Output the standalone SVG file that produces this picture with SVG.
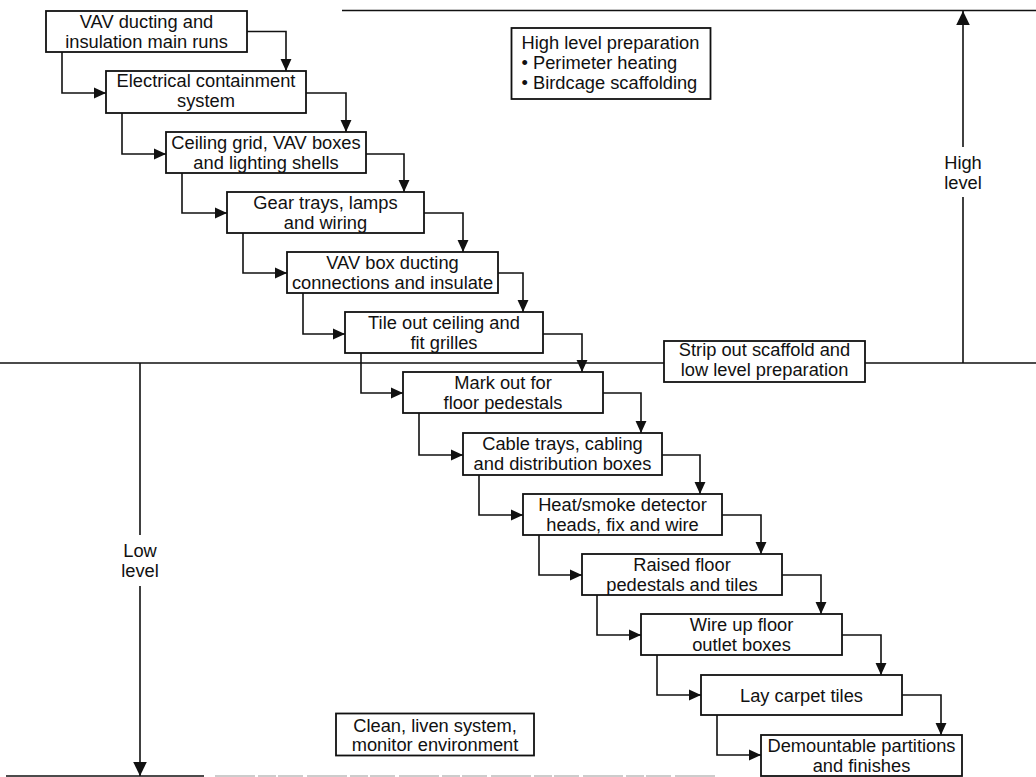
<svg xmlns="http://www.w3.org/2000/svg" width="1036" height="777" viewBox="0 0 1036 777">
  <style>
    text { font-family: "Liberation Sans", Arial, Helvetica, sans-serif; font-size: 18.3px; fill: #111; }
    .c { text-anchor: middle; }
    .box { fill: #fff; stroke: #111; stroke-width: 1.8; }
    .link { fill: none; stroke: #111; stroke-width: 1.6; marker-end: url(#arr); }
    .rule { fill: none; stroke: #111; stroke-width: 1.5; }
    .level { fill: none; stroke: #111; stroke-width: 1.6; }
  </style>
  <defs>
    <marker id="arr" markerUnits="userSpaceOnUse" markerWidth="12" markerHeight="12" viewBox="0 0 11 10" refX="11" refY="5" orient="auto">
      <path d="M0,0 L11,5 L0,10 Z" fill="#111"/>
    </marker>
    <marker id="bigarr" markerUnits="userSpaceOnUse" markerWidth="14" markerHeight="14" viewBox="0 0 13 12.6" refX="13" refY="6.3" orient="auto">
      <path d="M0,0 L13,6.3 L0,12.6 Z" fill="#111"/>
    </marker>
  </defs>
  <rect width="1036" height="777" fill="#fff"/>

  <!-- level rules -->
  <g id="rules">
    <path class="rule" d="M342,10.5 H1036"/>
    <path class="rule" d="M0,363 H664 M865,363 H1036"/>
    <path class="rule" d="M6,776 H204"/>
    <path d="M215,776 H718" fill="none" stroke="#9a9a9a" stroke-width="1.1" stroke-dasharray="40 3 18 2 25 4"/>
  </g>

  <!-- connectors -->
  <g id="connectors">
    <!-- right-hand links: box side to top of next box -->
    <path class="link" d="M247,31.5 H286 V71"/>
    <path class="link" d="M306,93 H346 V132"/>
    <path class="link" d="M366,154 H404 V192"/>
    <path class="link" d="M424,213 H463 V252"/>
    <path class="link" d="M498,273 H523 V312"/>
    <path class="link" d="M543,334 H582 V372"/>
    <path class="link" d="M603,393 H641 V433"/>
    <path class="link" d="M662,455 H700 V494"/>
    <path class="link" d="M722,515 H761 V554"/>
    <path class="link" d="M782,575 H821 V614"/>
    <path class="link" d="M842,635 H881 V675"/>
    <path class="link" d="M902,695 H941 V735"/>
    <!-- left-hand links: box bottom to side of next box -->
    <path class="link" d="M62,52 V93 H106"/>
    <path class="link" d="M122,113 V154 H166"/>
    <path class="link" d="M182,173 V213 H227"/>
    <path class="link" d="M243,233 V273 H287"/>
    <path class="link" d="M303,293 V334 H345"/>
    <path class="link" d="M361,353 V393 H403"/>
    <path class="link" d="M419,413 V455 H463"/>
    <path class="link" d="M479,475 V515 H523"/>
    <path class="link" d="M539,535 V575 H582"/>
    <path class="link" d="M597,595 V635 H641"/>
    <path class="link" d="M657,655 V695 H701"/>
    <path class="link" d="M717,715 V755 H761"/>
    <!-- level arrows -->
    <path class="level" d="M963,363 V197" />
    <path class="level" d="M963,147 V11" marker-end="url(#bigarr)"/>
    <path class="level" d="M140,363 V535" />
    <path class="level" d="M140,586 V776" marker-end="url(#bigarr)"/>
  </g>

  <!-- level labels -->
  <g id="label-high">
    <text class="c" x="963" y="169">High</text>
    <text class="c" x="963" y="189">level</text>
  </g>
  <g id="label-low">
    <text class="c" x="140" y="556.5">Low</text>
    <text class="c" x="140" y="576.5">level</text>
  </g>

  <!-- activity boxes -->
  <g id="n1">
    <rect class="box" x="46" y="11" width="201" height="41"/>
    <text class="c" x="146.5" y="28">VAV ducting and</text>
    <text class="c" x="146.5" y="48">insulation main runs</text>
  </g>
  <g id="n2">
    <rect class="box" x="106" y="71" width="200" height="42"/>
    <text class="c" x="206" y="87">Electrical containment</text>
    <text class="c" x="206" y="107">system</text>
  </g>
  <g id="n3">
    <rect class="box" x="166" y="132" width="200" height="41"/>
    <text class="c" x="266" y="148.5">Ceiling grid, VAV boxes</text>
    <text class="c" x="266" y="168.5">and lighting shells</text>
  </g>
  <g id="n4">
    <rect class="box" x="227" y="192" width="197" height="41"/>
    <text class="c" x="325.5" y="208.5">Gear trays, lamps</text>
    <text class="c" x="325.5" y="228.5">and wiring</text>
  </g>
  <g id="n5">
    <rect class="box" x="287" y="252" width="211" height="41"/>
    <text class="c" x="392.5" y="268.5">VAV box ducting</text>
    <text class="c" x="392.5" y="288.5">connections and insulate</text>
  </g>
  <g id="n6">
    <rect class="box" x="345" y="312" width="198" height="41"/>
    <text class="c" x="444" y="328.5">Tile out ceiling and</text>
    <text class="c" x="444" y="348.5">fit grilles</text>
  </g>
  <g id="n7">
    <rect class="box" x="403" y="372" width="200" height="41"/>
    <text class="c" x="503" y="388.5">Mark out for</text>
    <text class="c" x="503" y="408.5">floor pedestals</text>
  </g>
  <g id="n8">
    <rect class="box" x="463" y="433" width="199" height="42"/>
    <text class="c" x="562.5" y="450">Cable trays, cabling</text>
    <text class="c" x="562.5" y="470">and distribution boxes</text>
  </g>
  <g id="n9">
    <rect class="box" x="523" y="494" width="199" height="41"/>
    <text class="c" x="622.5" y="510.5">Heat/smoke detector</text>
    <text class="c" x="622.5" y="530.5">heads, fix and wire</text>
  </g>
  <g id="n10">
    <rect class="box" x="582" y="554" width="200" height="41"/>
    <text class="c" x="682" y="570.5">Raised floor</text>
    <text class="c" x="682" y="590.5">pedestals and tiles</text>
  </g>
  <g id="n11">
    <rect class="box" x="641" y="614" width="201" height="41"/>
    <text class="c" x="741.5" y="630.5">Wire up floor</text>
    <text class="c" x="741.5" y="650.5">outlet boxes</text>
  </g>
  <g id="n12">
    <rect class="box" x="701" y="675" width="201" height="40"/>
    <text class="c" x="801.5" y="701.5">Lay carpet tiles</text>
  </g>
  <g id="n13">
    <rect class="box" x="761" y="735" width="201" height="41"/>
    <text class="c" x="861.5" y="751.5">Demountable partitions</text>
    <text class="c" x="861.5" y="771.5">and finishes</text>
  </g>

  <!-- side notes -->
  <g id="high-prep">
    <rect class="box" x="511.5" y="28" width="199" height="71"/>
    <text x="521.5" y="49">High level preparation</text>
    <text x="521.5" y="69">• Perimeter heating</text>
    <text x="521.5" y="89">• Birdcage scaffolding</text>
  </g>
  <g id="strip-out">
    <rect class="box" x="664" y="341" width="201" height="41"/>
    <text class="c" x="764.5" y="356">Strip out scaffold and</text>
    <text class="c" x="764.5" y="375.5">low level preparation</text>
  </g>
  <g id="commission">
    <rect class="box" x="336" y="713.5" width="198" height="42"/>
    <text class="c" x="435" y="732">Clean, liven system,</text>
    <text class="c" x="435" y="751">monitor environment</text>
  </g>
</svg>
